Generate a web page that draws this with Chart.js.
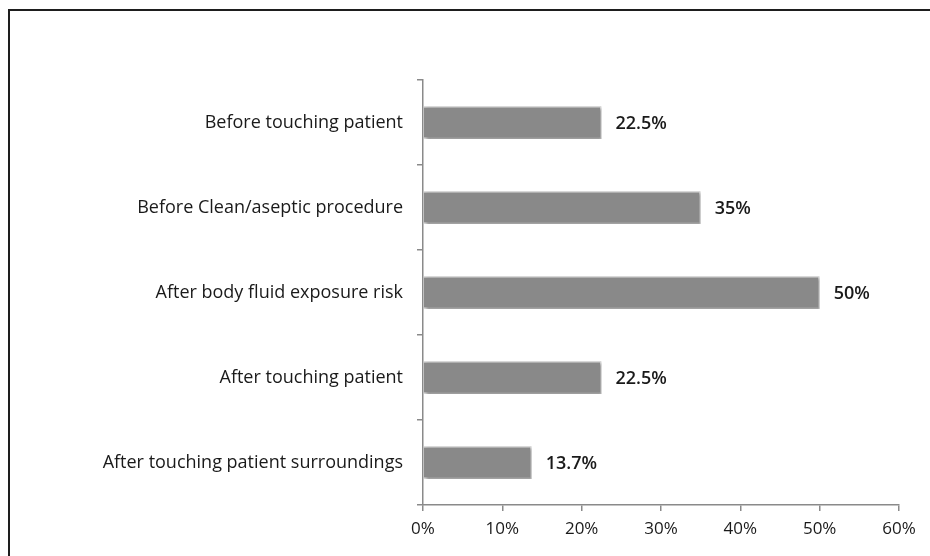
<!DOCTYPE html>
<html>
<head>
<meta charset="utf-8">
<script src="https://cdn.jsdelivr.net/npm/chart.js@4"></script>
<style>
html,body{margin:0;padding:0;background:#fff;}
#wrap{width:930px;height:556px;position:relative;}
</style>
</head>
<body>
<div id="wrap"><canvas id="c" width="930" height="556"></canvas></div>
<script>
const categories = [
  "Before touching patient",
  "Before Clean/aseptic procedure",
  "After body fluid exposure risk",
  "After touching patient",
  "After touching patient surroundings"
];
const values = [22.5, 35, 50, 22.5, 13.7];
const valueLabels = ["22.5%", "35%", "50%", "22.5%", "13.7%"];
const xTicks = [0, 10, 20, 30, 40, 50, 60];

const FONT = "'Open Sans', Lato, sans-serif";

const framePlugin = {
  id: 'frame',
  beforeDraw(chart) {
    const ctx = chart.ctx;
    ctx.save();
    ctx.fillStyle = '#fff';
    ctx.fillRect(0, 0, chart.width, chart.height);
    ctx.strokeStyle = '#1e1e1e';
    ctx.lineWidth = 2;
    ctx.beginPath();
    ctx.moveTo(9, chart.height + 5);
    ctx.lineTo(9, 10);
    ctx.lineTo(chart.width + 5, 10);
    ctx.stroke();
    ctx.restore();
  }
};

const shadowPlugin = {
  id: 'barShadow',
  beforeDatasetsDraw(chart) {
    const ctx = chart.ctx;
    ctx.save();
    ctx.shadowColor = 'rgba(0,0,0,0.35)';
    ctx.shadowOffsetX = 2;
    ctx.shadowOffsetY = 2;
    ctx.shadowBlur = 3;
  },
  afterDatasetsDraw(chart) {
    chart.ctx.restore();
  }
};

const labelPlugin = {
  id: 'valueLabels',
  afterDatasetsDraw(chart) {
    const ctx = chart.ctx;
    const meta = chart.getDatasetMeta(0);
    ctx.save();
    ctx.font = "600 18px " + FONT;
    ctx.fillStyle = '#1a1a1a';
    ctx.textAlign = 'left';
    ctx.textBaseline = 'middle';
    meta.data.forEach((bar, i) => {
      ctx.fillText(valueLabels[i], bar.x + 14, bar.y + 1);
    });
    ctx.restore();
  }
};

new Chart(document.getElementById('c'), {
  type: 'bar',
  data: {
    labels: categories,
    datasets: [{
      data: values,
      backgroundColor: '#898989',
      borderColor: '#dcdcdc',
      borderWidth: 1.5,
      categoryPercentage: 0.39,
      barPercentage: 1.0
    }]
  },
  options: {
    indexAxis: 'y',
    responsive: false,
    animation: false,
    devicePixelRatio: 1,
    layout: { padding: { top: 80, right: 31, left: 0, bottom: 0 } },
    plugins: {
      legend: { display: false },
      tooltip: { enabled: false }
    },
    scales: {
      x: {
        min: 0, max: 60,
        afterFit(s) { s.height = 51; },
        afterBuildTicks(s) { s.ticks = xTicks.map(v => ({ value: v })); },
        grid: { drawOnChartArea: false, drawTicks: true, tickLength: 6, color: '#8a8a8a', lineWidth: 1.5 },
        border: { color: '#8a8a8a', width: 1.5 },
        ticks: {
          padding: 8,
          color: '#1a1a1a',
          font: { family: FONT, size: 17 },
          callback: v => v + '%'
        }
      },
      y: {
        afterFit(s) { s.width = 423; },
        grid: { drawOnChartArea: false, drawTicks: true, tickLength: 6, color: '#8a8a8a', lineWidth: 1.5 },
        border: { color: '#8a8a8a', width: 1.5 },
        ticks: {
          padding: 14,
          color: '#1a1a1a',
          font: { family: FONT, size: 18 }
        }
      }
    }
  },
  plugins: [framePlugin, shadowPlugin, labelPlugin]
});
</script>
</body>
</html>
